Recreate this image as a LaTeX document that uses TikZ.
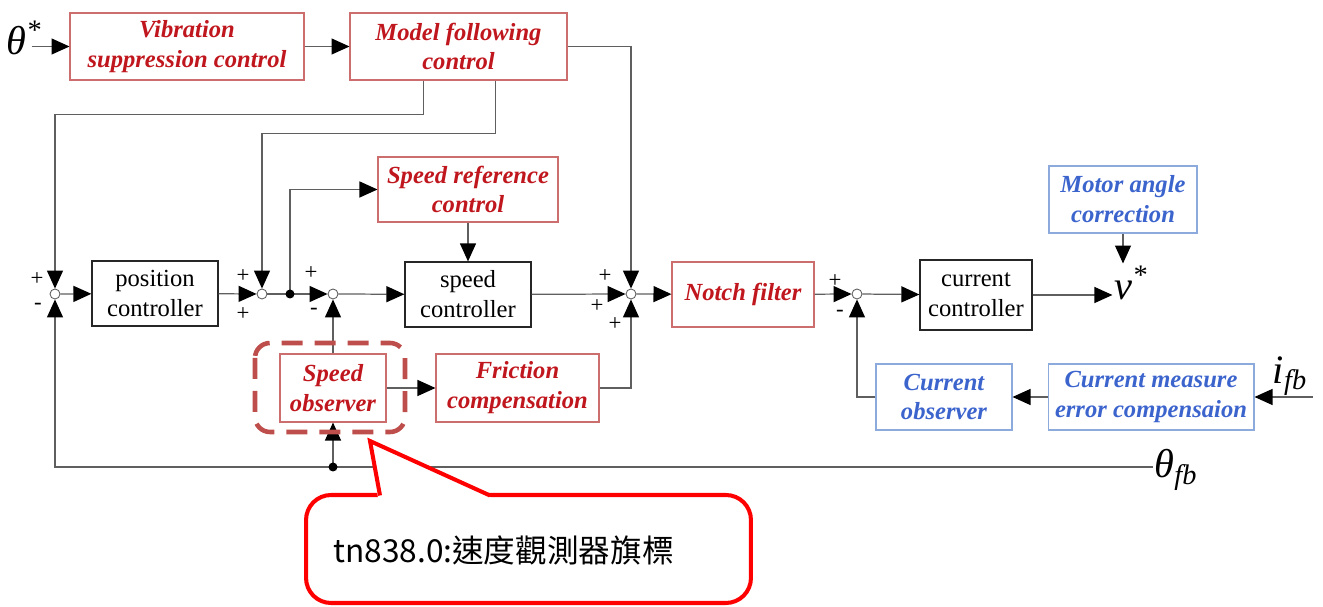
\documentclass[tikz,border=0pt]{standalone}
\usepackage{fontspec}
\setmainfont{Liberation Serif}
\newfontfamily\cjkfont{Noto Sans CJK TC}
\usetikzlibrary{arrows.meta,positioning,calc}

\definecolor{txtred}{RGB}{192,22,29}
\definecolor{boxred}{RGB}{205,110,110}
\definecolor{txtblue}{RGB}{60,100,205}
\definecolor{boxblue}{RGB}{140,170,220}
\definecolor{wire}{RGB}{95,95,95}
\definecolor{markred}{RGB}{190,78,75}

\begin{document}
\begin{tikzpicture}[x=0.02cm,y=-0.02cm,
  blk/.style={draw=black!85, line width=0.7pt, align=center, inner sep=1pt,
    font=\fontsize{14}{17}\selectfont},
  rblk/.style={draw=boxred, line width=0.6pt, align=center, inner sep=1pt, text=txtred,
    font=\fontsize{14}{17}\selectfont\bfseries\itshape},
  bblk/.style={draw=boxblue, line width=0.6pt, align=center, inner sep=1pt, text=txtblue,
    font=\fontsize{14}{17}\selectfont\bfseries\itshape},
  sum/.style={circle, draw=wire, line width=0.5pt, minimum size=0.2cm, inner sep=0pt},
  sgn/.style={inner sep=0pt, font=\fontsize{13}{13}\selectfont},
  var/.style={inner sep=1pt, font=\fontsize{23}{23}\selectfont\itshape},
  wire/.style={draw=wire, line width=0.7pt},
  sig/.style={wire, -{Triangle[length=0.36cm, width=0.32cm, color=black]}}
]
\useasboundingbox (0,0) rectangle (1323,607);

% upper blocks
\node[var] (thref) at (24,38) {θ\textsuperscript{*}};
\node[rblk, minimum width=4.68cm, minimum height=1.34cm] (vsc) at (187,46.5) {Vibration\\suppression control};
\node[rblk, minimum width=4.34cm, minimum height=1.34cm] (mfc) at (458.5,46.5) {Model following\\control};
\node[rblk, minimum width=3.6cm, minimum height=1.3cm] (src) at (468,189.5) {Speed reference\\control};
\node[bblk, minimum width=2.96cm, minimum height=1.34cm] (mac) at (1123,199.5) {Motor angle\\correction};

% main row
\node[sum] (sumA) at (55,294) {};
\node[blk, minimum width=2.52cm, minimum height=1.3cm] (pos) at (155,293.5) {position\\controller};
\node[sum] (sumB) at (262,294) {};
\coordinate (brA) at (290,294);
\node[sum] (sumC) at (333,294) {};
\node[blk, minimum width=2.52cm, minimum height=1.3cm] (spd) at (468,294.5) {speed\\controller};
\node[sum] (sumD) at (631,294) {};
\node[rblk, minimum width=2.84cm, minimum height=1.3cm] (notch) at (743,294.5) {Notch filter};
\node[sum] (sumE) at (857,294) {};
\node[blk, minimum width=2.24cm, minimum height=1.4cm] (cur) at (976,295) {current\\controller};
\node[var] (vref) at (1131,283) {v\textsuperscript{*}};

% lower blocks
\node[rblk, minimum width=2.12cm, minimum height=1.36cm] (sob) at (333,388) {Speed\\observer};
\node[rblk, minimum width=3.26cm, minimum height=1.36cm] (fric) at (517.5,388) {Friction\\compensation};
\node[bblk, minimum width=2.72cm, minimum height=1.32cm] (cob) at (944,397) {Current\\observer};
\node[bblk, minimum width=4.12cm, minimum height=1.32cm] (cmec) at (1151,397) {Current measure\\error compensaion};
\node[var] (ifb) at (1290,376) {i\textsubscript{fb}};
\node[var] (thfb) at (1176,470) {θ\textsubscript{fb}};
\coordinate (brB) at (333,467);

% signs
\node[sgn] (sA1) at (37,279) {+};
\node[sgn] (sA2) at (38,306) {-};
\node[sgn] (sB1) at (243,276) {+};
\node[sgn] (sB2) at (243,314) {+};
\node[sgn] (sC1) at (311,273) {+};
\node[sgn] (sC2) at (314,311) {-};
\node[sgn] (sD1) at (605,276) {+};
\node[sgn] (sD2) at (597,306) {+};
\node[sgn] (sD3) at (615,324) {+};
\node[sgn] (sE1) at (835,281) {+};
\node[sgn] (sE2) at (840,313) {-};

% connectors
\draw[sig] ($(thref.east |- vsc)+(-12,0)$) -- (vsc);
\draw[sig] (vsc) -- (mfc);
\draw[sig] (mfc) -| (sumD);
\draw[sig] ($(mfc.south west)+(74,0)$) -- ++(0,34) -| (sumA);
\draw[sig] ($(mfc.south west)+(146,0)$) -- ++(0,53) -| (sumB);
\draw[sig] (sumA) -- (pos);
\draw[sig] (pos) -- (sumB);
\draw[wire] (sumB) -- (brA);
\draw[sig] (brA) -- (sumC);
\draw[sig] (brA) |- (src);
\draw[sig] (sumC) -- (spd);
\draw[sig] (src) -- (spd);
\draw[sig] (spd) -- (sumD);
\draw[sig] (sumD) -- (notch);
\draw[sig] (notch) -- (sumE);
\draw[sig] (sumE) -- (cur);
\draw[sig] (cur) -- (cur -| vref.west);
\draw[sig] (mac) -- (mac |- vref.north);
\draw[sig] (sob) -- (sumC);
\draw[sig] (sob) -- (fric);
\draw[sig] (fric) -| (sumD);
\draw[sig] (thfb.west |- brB) -| (sumA);
\draw[sig] (brB) -- (sob);
\fill (brA) circle (0.09cm);
\fill (brB) circle (0.09cm);
\draw[sig] ($(ifb.south east |- cmec)+(4,0)$) -- (cmec);
\draw[sig] (cmec) -- (cob);
\draw[sig] (cob) -| (sumE);

% highlight and callout
\draw[markred, line width=2.6pt, dash pattern=on 0.42cm off 0.24cm, rounded corners=0.3cm]
  (255,343) rectangle (405,432);
\node[draw=red, line width=2.3pt, rounded corners=0.5cm, minimum width=8.9cm, minimum height=2.16cm] (note) at (528.5,549) {};
\fill[white] (378,498) -- (370,441) -- (492,498) -- cycle;
\draw[red, line width=2.3pt, line join=miter] (380,495.5) -- (370,441) -- (490,495.5);
\node[anchor=west, inner sep=0pt, font=\cjkfont\fontsize{18}{18}\selectfont] (notetxt) at (333,550) {tn838.0:速度觀測器旗標};
\end{tikzpicture}
\end{document}
